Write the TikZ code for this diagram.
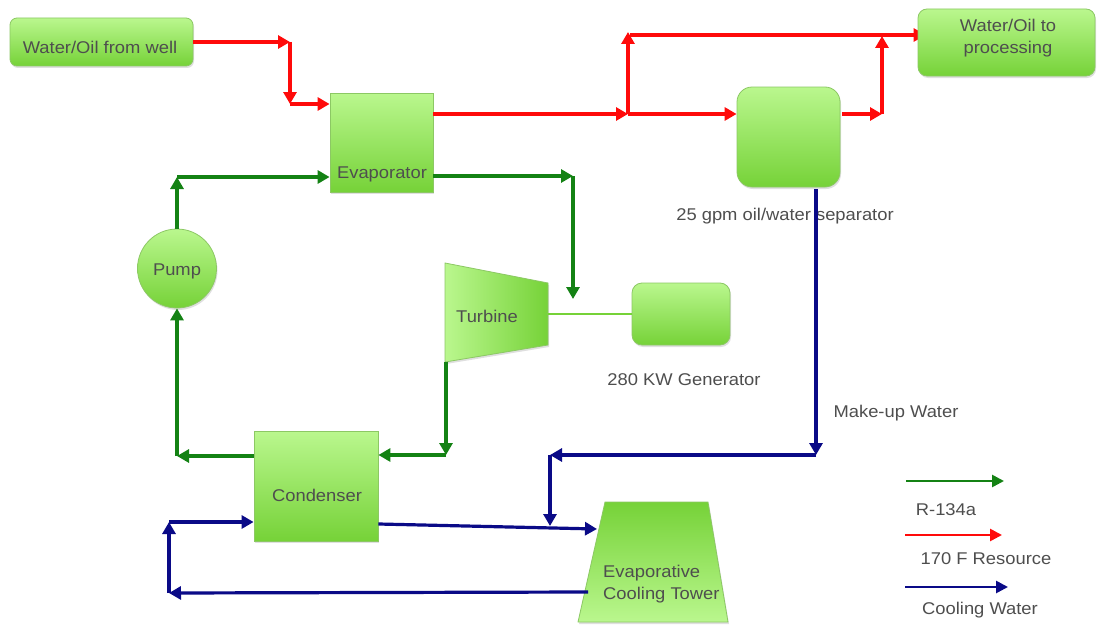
\documentclass[tikz,border=0pt]{standalone}
\usepackage{fontspec}
\setmainfont{Liberation Sans}[FakeStretch=1.08]
\usetikzlibrary{arrows.meta,shadows,calc}
\pgfdeclarelayer{background}
\pgfsetlayers{background,main}
\definecolor{lite}{RGB}{186,247,142}
\definecolor{dark}{RGB}{118,210,56}
\definecolor{boxedge}{RGB}{140,200,100}
\definecolor{txt}{RGB}{78,78,78}
\definecolor{resred}{RGB}{255,10,10}
\definecolor{rgreen}{RGB}{20,130,20}
\definecolor{cwblue}{RGB}{10,10,135}
\tikzset{
  unit/.style={draw=boxedge, line width=0.8pt, top color=lite, bottom color=dark,
    drop shadow={shadow xshift=1pt, shadow yshift=-2pt, opacity=0.25}},
  lbl/.style={text=txt, font=\fontsize{17}{22}\selectfont, inner sep=0pt, yshift=-2pt},
  flow/.style={line width=3.2pt, -{Triangle[length=12pt,width=13pt]}},
  rflow/.style={flow, draw=resred, fill=resred},
  gflow/.style={flow, draw=rgreen, fill=rgreen},
  bflow/.style={flow, draw=cwblue, fill=cwblue},
  keyflow/.style={line width=2.6pt, -{Triangle[length=12pt,width=12pt]}}
}
\begin{document}
\begin{tikzpicture}[x=1pt,y=-1pt]
\useasboundingbox (0,0) rectangle (1097,626);
\begin{pgfonlayer}{background}
\fill[white] (0,0) rectangle (1097,626);
\end{pgfonlayer}

% equipment
\node[unit, rounded corners=7pt, minimum width=183pt, minimum height=48pt] (well) at (101.5,42) {};
\node[lbl] (welltext) at (100,45) {Water/Oil from well};
\node[unit, minimum width=103pt, minimum height=99pt] (evap) at (381.5,142.5) {};
\node[lbl] (evaptext) at (382,172) {Evaporator};
\node[unit, rounded corners=15pt, minimum width=103pt, minimum height=100pt] (sep) at (788.5,137) {};
\node[lbl] (septext) at (785,214) {25 gpm oil/water separator};
\node[unit, rounded corners=9pt, minimum width=177pt, minimum height=67pt] (proc) at (1006.5,42.5) {};
\node[lbl, align=center] (proctext) at (1008,36) {Water/Oil to\\processing};
\node[unit, circle, minimum size=79pt] (pump) at (177,268.5) {};
\node[lbl] (pumptext) at (177,269) {Pump};
\path[draw=boxedge, line width=0.8pt, left color=lite, right color=dark,
  drop shadow={shadow xshift=1pt, shadow yshift=-2pt, opacity=0.25}]
  (445,263) -- (548,283) -- (548,345) -- (445,362) -- cycle;
\node[lbl] (turb) at (487,314) {Turbine};
\coordinate (tshaft) at (548,314);
\coordinate (tout) at (446,362);
\node[unit, rounded corners=10pt, minimum width=98pt, minimum height=62pt] (gen) at (681,314) {};
\node[lbl] (gentext) at (684,378) {280 KW Generator};
\node[unit, minimum width=124pt, minimum height=110pt] (cond) at (316,486) {};
\node[lbl] (condtext) at (317,493) {Condenser};
\path[draw=boxedge, line width=0.8pt, top color=dark, bottom color=lite,
  drop shadow={shadow xshift=1pt, shadow yshift=-2pt, opacity=0.25}]
  (605,502) -- (708,502) -- (728,622) -- (578,622) -- cycle;
\node[lbl, align=left, anchor=west] (tower) at (603,582) {Evaporative\\Cooling Tower};
\coordinate (towerin) at (597,529);
\coordinate (towerout) at (588,592);
\node[lbl] (makeup) at (896,411) {Make-up Water};

% generator shaft
\draw[draw=dark, line width=2pt] (tshaft) -- (gen.west);

% 170 F resource (red)
\coordinate (r1) at (290,42);
\coordinate (r2) at (290,104);
\coordinate (r3) at (628,114);
\coordinate (r4) at (628,32);
\coordinate (r5) at (630,35);
\coordinate (r6) at (882,114);
\coordinate (r7) at (882,36);
\draw[rflow] (well.east |- r1) -- (r1);
\draw[rflow] (r1) -- (r2);
\draw[rflow] (r2) -- (evap.west |- r2);
\draw[rflow] (evap.east |- r3) -- (r3);
\draw[rflow] (r3) -- (sep.west |- r3);
\draw[rflow] (r3) -- (r4);
\begin{pgfonlayer}{background}
\draw[rflow] (r5) -- ($(proc.west |- r5)+(8,0)$);
\end{pgfonlayer}
\draw[rflow] ($(sep.east |- r6)+(2,0)$) -- (r6);
\draw[rflow] (r6) -- (r7);

% R-134a loop (green)
\coordinate (g1) at (177,177);
\coordinate (g2) at (573,176);
\coordinate (g3) at (573,299);
\coordinate (g4) at (446,455);
\coordinate (g5) at (177,456);
\draw[gflow] (pump.north) -- (g1);
\draw[gflow] (g1) -- (evap.west |- g1);
\draw[gflow] (evap.east |- g2) -- (g2);
\draw[gflow] (g2) -- (g3);
\draw[gflow] (tout) -- (g4);
\draw[gflow] (g4) -- (cond.east |- g4);
\draw[gflow] (cond.west |- g5) -- (g5);
\draw[gflow] (g5) -- (pump.south);

% cooling water (blue)
\coordinate (b0) at (816,189);
\coordinate (b1) at (816,455);
\coordinate (b2) at (550,455);
\coordinate (b3) at (550,526);
\coordinate (b4) at (169,593);
\coordinate (b5) at (169,522);
\draw[bflow] (b0) -- (b1);
\draw[bflow] (b1) -- (b2);
\draw[bflow] (b2) -- (b3);
\draw[bflow] (cond.east |- 0,524) -- (towerin);
\draw[bflow] (towerout) -- (b4);
\draw[bflow] (b4) -- (b5);
\draw[bflow] (b5) -- (cond.west |- b5);

% key
\coordinate (k1a) at (906,481); \coordinate (k1b) at (1004,481);
\coordinate (k2a) at (905,535); \coordinate (k2b) at (1002,535);
\coordinate (k3a) at (905,587); \coordinate (k3b) at (1008,587);
\draw[keyflow, draw=rgreen, fill=rgreen] (k1a) -- (k1b);
\draw[keyflow, draw=resred, fill=resred] (k2a) -- (k2b);
\draw[keyflow, draw=cwblue, fill=cwblue] (k3a) -- (k3b);
\node[lbl] (key1) at (946,508) {R-134a};
\node[lbl] (key2) at (986,557) {170 F Resource};
\node[lbl] (key3) at (980,608) {Cooling Water};
\end{tikzpicture}
\end{document}
